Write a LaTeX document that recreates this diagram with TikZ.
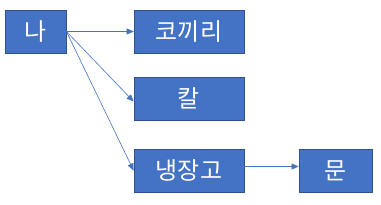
\documentclass[tikz,border=0pt]{standalone}
\usepackage{fontspec}
\newfontfamily\kr{Noto Sans CJK KR}
\usetikzlibrary{arrows.meta}
\definecolor{boxfill}{HTML}{4472C4}
\definecolor{boxline}{HTML}{2F528F}
\tikzset{
  box/.style={draw=boxline, line width=0.8pt, fill=boxfill, text=white, font=\kr\fontsize{24}{28}\selectfont, inner sep=0pt},
  conn/.style={draw=boxfill, line width=0.6pt, -{Triangle[length=7pt,width=6pt]}}
}
\begin{document}
\begin{tikzpicture}[x=1pt,y=-1pt]
\useasboundingbox (0,0) rectangle (381,205);
\node[box, minimum width=61pt, minimum height=43pt] (na) at (35.5,31.5) {나};
\node[box, minimum width=110pt, minimum height=43pt] (ko) at (189,31.5) {코끼리};
\node[box, minimum width=110pt, minimum height=43pt] (kal) at (189,98.5) {칼};
\node[box, minimum width=110pt, minimum height=43pt] (nj) at (189,170.5) {냉장고};
\node[box, minimum width=73pt, minimum height=43pt] (mun) at (335.5,170.5) {문};
\draw[conn] (na.east) -- (ko.west);
\draw[conn] (na.east) -- ([yshift=-3pt]kal.west);
\draw[conn] (na.east) -- (nj.west);
\draw[conn] ([yshift=4pt]nj.east) -- ([yshift=4pt]mun.west);
\end{tikzpicture}
\end{document}
